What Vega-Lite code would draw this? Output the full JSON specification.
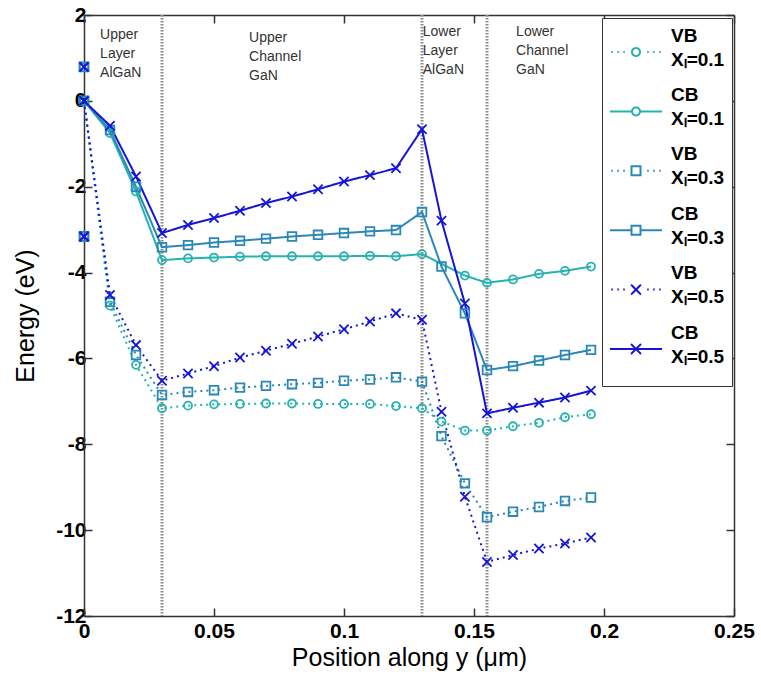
{
  "$schema": "https://vega.github.io/schema/vega-lite/v6.json",
  "autosize": "none",
  "width": 650,
  "height": 601,
  "padding": {"left": 84, "top": 15, "right": 27, "bottom": 63},
  "background": "white",
  "config": {
    "view": {"stroke": null},
    "font": "Liberation Sans",
    "axis": {
      "grid": false,
      "domainColor": "#333333",
      "domainWidth": 1.5,
      "tickColor": "#333333",
      "tickWidth": 1.5,
      "tickSize": -8,
      "labelFlush": false,
      "labelFont": "Liberation Sans",
      "labelFontSize": 21,
      "labelFontWeight": "bold",
      "labelColor": "black",
      "titleFont": "Liberation Sans",
      "titleFontSize": 25,
      "titleFontWeight": "normal",
      "titleColor": "black"
    }
  },
  "datasets": {
    "bands": [
      {"series": "CB 0.1", "band": "CB", "xl": "0.1", "pos": 0, "energy": 0}, {"series": "CB 0.1", "band": "CB", "xl": "0.1", "pos": 0.01, "energy": -0.75}, {"series": "CB 0.1", "band": "CB", "xl": "0.1", "pos": 0.02, "energy": -2.11}, {"series": "CB 0.1", "band": "CB", "xl": "0.1", "pos": 0.03, "energy": -3.71}, {"series": "CB 0.1", "band": "CB", "xl": "0.1", "pos": 0.04, "energy": -3.67}, {"series": "CB 0.1", "band": "CB", "xl": "0.1", "pos": 0.05, "energy": -3.65}, {"series": "CB 0.1", "band": "CB", "xl": "0.1", "pos": 0.06, "energy": -3.63}, {"series": "CB 0.1", "band": "CB", "xl": "0.1", "pos": 0.07, "energy": -3.62}, {"series": "CB 0.1", "band": "CB", "xl": "0.1", "pos": 0.08, "energy": -3.62}, {"series": "CB 0.1", "band": "CB", "xl": "0.1", "pos": 0.09, "energy": -3.62}, {"series": "CB 0.1", "band": "CB", "xl": "0.1", "pos": 0.1, "energy": -3.62}, {"series": "CB 0.1", "band": "CB", "xl": "0.1", "pos": 0.11, "energy": -3.61}, {"series": "CB 0.1", "band": "CB", "xl": "0.1", "pos": 0.12, "energy": -3.62}, {"series": "CB 0.1", "band": "CB", "xl": "0.1", "pos": 0.13, "energy": -3.57}, {"series": "CB 0.1", "band": "CB", "xl": "0.1", "pos": 0.1465, "energy": -4.07}, {"series": "CB 0.1", "band": "CB", "xl": "0.1", "pos": 0.155, "energy": -4.24}, {"series": "CB 0.1", "band": "CB", "xl": "0.1", "pos": 0.165, "energy": -4.16}, {"series": "CB 0.1", "band": "CB", "xl": "0.1", "pos": 0.175, "energy": -4.03}, {"series": "CB 0.1", "band": "CB", "xl": "0.1", "pos": 0.185, "energy": -3.96}, {"series": "CB 0.1", "band": "CB", "xl": "0.1", "pos": 0.195, "energy": -3.86},

      {"series": "CB 0.3", "band": "CB", "xl": "0.3", "pos": 0, "energy": 0}, {"series": "CB 0.3", "band": "CB", "xl": "0.3", "pos": 0.01, "energy": -0.68}, {"series": "CB 0.3", "band": "CB", "xl": "0.3", "pos": 0.02, "energy": -2.0}, {"series": "CB 0.3", "band": "CB", "xl": "0.3", "pos": 0.03, "energy": -3.41}, {"series": "CB 0.3", "band": "CB", "xl": "0.3", "pos": 0.04, "energy": -3.36}, {"series": "CB 0.3", "band": "CB", "xl": "0.3", "pos": 0.05, "energy": -3.3}, {"series": "CB 0.3", "band": "CB", "xl": "0.3", "pos": 0.06, "energy": -3.26}, {"series": "CB 0.3", "band": "CB", "xl": "0.3", "pos": 0.07, "energy": -3.21}, {"series": "CB 0.3", "band": "CB", "xl": "0.3", "pos": 0.08, "energy": -3.16}, {"series": "CB 0.3", "band": "CB", "xl": "0.3", "pos": 0.09, "energy": -3.12}, {"series": "CB 0.3", "band": "CB", "xl": "0.3", "pos": 0.1, "energy": -3.08}, {"series": "CB 0.3", "band": "CB", "xl": "0.3", "pos": 0.11, "energy": -3.04}, {"series": "CB 0.3", "band": "CB", "xl": "0.3", "pos": 0.12, "energy": -3.01}, {"series": "CB 0.3", "band": "CB", "xl": "0.3", "pos": 0.13, "energy": -2.59}, {"series": "CB 0.3", "band": "CB", "xl": "0.3", "pos": 0.1375, "energy": -3.86}, {"series": "CB 0.3", "band": "CB", "xl": "0.3", "pos": 0.1465, "energy": -4.95}, {"series": "CB 0.3", "band": "CB", "xl": "0.3", "pos": 0.155, "energy": -6.27}, {"series": "CB 0.3", "band": "CB", "xl": "0.3", "pos": 0.165, "energy": -6.18}, {"series": "CB 0.3", "band": "CB", "xl": "0.3", "pos": 0.175, "energy": -6.05}, {"series": "CB 0.3", "band": "CB", "xl": "0.3", "pos": 0.185, "energy": -5.92}, {"series": "CB 0.3", "band": "CB", "xl": "0.3", "pos": 0.195, "energy": -5.8},

      {"series": "CB 0.5", "band": "CB", "xl": "0.5", "pos": 0, "energy": 0}, {"series": "CB 0.5", "band": "CB", "xl": "0.5", "pos": 0.01, "energy": -0.58}, {"series": "CB 0.5", "band": "CB", "xl": "0.5", "pos": 0.02, "energy": -1.76}, {"series": "CB 0.5", "band": "CB", "xl": "0.5", "pos": 0.03, "energy": -3.08}, {"series": "CB 0.5", "band": "CB", "xl": "0.5", "pos": 0.04, "energy": -2.89}, {"series": "CB 0.5", "band": "CB", "xl": "0.5", "pos": 0.05, "energy": -2.73}, {"series": "CB 0.5", "band": "CB", "xl": "0.5", "pos": 0.06, "energy": -2.56}, {"series": "CB 0.5", "band": "CB", "xl": "0.5", "pos": 0.07, "energy": -2.38}, {"series": "CB 0.5", "band": "CB", "xl": "0.5", "pos": 0.08, "energy": -2.23}, {"series": "CB 0.5", "band": "CB", "xl": "0.5", "pos": 0.09, "energy": -2.06}, {"series": "CB 0.5", "band": "CB", "xl": "0.5", "pos": 0.1, "energy": -1.88}, {"series": "CB 0.5", "band": "CB", "xl": "0.5", "pos": 0.11, "energy": -1.73}, {"series": "CB 0.5", "band": "CB", "xl": "0.5", "pos": 0.12, "energy": -1.57}, {"series": "CB 0.5", "band": "CB", "xl": "0.5", "pos": 0.13, "energy": -0.66}, {"series": "CB 0.5", "band": "CB", "xl": "0.5", "pos": 0.1375, "energy": -2.79}, {"series": "CB 0.5", "band": "CB", "xl": "0.5", "pos": 0.1465, "energy": -4.72}, {"series": "CB 0.5", "band": "CB", "xl": "0.5", "pos": 0.155, "energy": -7.28}, {"series": "CB 0.5", "band": "CB", "xl": "0.5", "pos": 0.165, "energy": -7.15}, {"series": "CB 0.5", "band": "CB", "xl": "0.5", "pos": 0.175, "energy": -7.03}, {"series": "CB 0.5", "band": "CB", "xl": "0.5", "pos": 0.185, "energy": -6.91}, {"series": "CB 0.5", "band": "CB", "xl": "0.5", "pos": 0.195, "energy": -6.75},

      {"series": "VB 0.1", "band": "VB", "xl": "0.1", "pos": 0, "energy": 0}, {"series": "VB 0.1", "band": "VB", "xl": "0.1", "pos": 0.01, "energy": -4.77}, {"series": "VB 0.1", "band": "VB", "xl": "0.1", "pos": 0.02, "energy": -6.15}, {"series": "VB 0.1", "band": "VB", "xl": "0.1", "pos": 0.03, "energy": -7.16}, {"series": "VB 0.1", "band": "VB", "xl": "0.1", "pos": 0.04, "energy": -7.1}, {"series": "VB 0.1", "band": "VB", "xl": "0.1", "pos": 0.05, "energy": -7.07}, {"series": "VB 0.1", "band": "VB", "xl": "0.1", "pos": 0.06, "energy": -7.06}, {"series": "VB 0.1", "band": "VB", "xl": "0.1", "pos": 0.07, "energy": -7.05}, {"series": "VB 0.1", "band": "VB", "xl": "0.1", "pos": 0.08, "energy": -7.05}, {"series": "VB 0.1", "band": "VB", "xl": "0.1", "pos": 0.09, "energy": -7.06}, {"series": "VB 0.1", "band": "VB", "xl": "0.1", "pos": 0.1, "energy": -7.06}, {"series": "VB 0.1", "band": "VB", "xl": "0.1", "pos": 0.11, "energy": -7.06}, {"series": "VB 0.1", "band": "VB", "xl": "0.1", "pos": 0.12, "energy": -7.11}, {"series": "VB 0.1", "band": "VB", "xl": "0.1", "pos": 0.13, "energy": -7.16}, {"series": "VB 0.1", "band": "VB", "xl": "0.1", "pos": 0.1375, "energy": -7.47}, {"series": "VB 0.1", "band": "VB", "xl": "0.1", "pos": 0.1465, "energy": -7.68}, {"series": "VB 0.1", "band": "VB", "xl": "0.1", "pos": 0.155, "energy": -7.68}, {"series": "VB 0.1", "band": "VB", "xl": "0.1", "pos": 0.165, "energy": -7.58}, {"series": "VB 0.1", "band": "VB", "xl": "0.1", "pos": 0.175, "energy": -7.5}, {"series": "VB 0.1", "band": "VB", "xl": "0.1", "pos": 0.185, "energy": -7.37}, {"series": "VB 0.1", "band": "VB", "xl": "0.1", "pos": 0.195, "energy": -7.3},

      {"series": "VB 0.3", "band": "VB", "xl": "0.3", "pos": 0, "energy": 0}, {"series": "VB 0.3", "band": "VB", "xl": "0.3", "pos": 0.01, "energy": -4.68}, {"series": "VB 0.3", "band": "VB", "xl": "0.3", "pos": 0.02, "energy": -5.92}, {"series": "VB 0.3", "band": "VB", "xl": "0.3", "pos": 0.03, "energy": -6.85}, {"series": "VB 0.3", "band": "VB", "xl": "0.3", "pos": 0.04, "energy": -6.78}, {"series": "VB 0.3", "band": "VB", "xl": "0.3", "pos": 0.05, "energy": -6.74}, {"series": "VB 0.3", "band": "VB", "xl": "0.3", "pos": 0.06, "energy": -6.68}, {"series": "VB 0.3", "band": "VB", "xl": "0.3", "pos": 0.07, "energy": -6.64}, {"series": "VB 0.3", "band": "VB", "xl": "0.3", "pos": 0.08, "energy": -6.6}, {"series": "VB 0.3", "band": "VB", "xl": "0.3", "pos": 0.09, "energy": -6.57}, {"series": "VB 0.3", "band": "VB", "xl": "0.3", "pos": 0.1, "energy": -6.52}, {"series": "VB 0.3", "band": "VB", "xl": "0.3", "pos": 0.11, "energy": -6.49}, {"series": "VB 0.3", "band": "VB", "xl": "0.3", "pos": 0.12, "energy": -6.44}, {"series": "VB 0.3", "band": "VB", "xl": "0.3", "pos": 0.13, "energy": -6.54}, {"series": "VB 0.3", "band": "VB", "xl": "0.3", "pos": 0.1375, "energy": -7.81}, {"series": "VB 0.3", "band": "VB", "xl": "0.3", "pos": 0.1465, "energy": -8.91}, {"series": "VB 0.3", "band": "VB", "xl": "0.3", "pos": 0.155, "energy": -9.7}, {"series": "VB 0.3", "band": "VB", "xl": "0.3", "pos": 0.165, "energy": -9.57}, {"series": "VB 0.3", "band": "VB", "xl": "0.3", "pos": 0.175, "energy": -9.46}, {"series": "VB 0.3", "band": "VB", "xl": "0.3", "pos": 0.185, "energy": -9.32}, {"series": "VB 0.3", "band": "VB", "xl": "0.3", "pos": 0.195, "energy": -9.24},

      {"series": "VB 0.5", "band": "VB", "xl": "0.5", "pos": 0, "energy": 0}, {"series": "VB 0.5", "band": "VB", "xl": "0.5", "pos": 0.01, "energy": -4.52}, {"series": "VB 0.5", "band": "VB", "xl": "0.5", "pos": 0.02, "energy": -5.69}, {"series": "VB 0.5", "band": "VB", "xl": "0.5", "pos": 0.03, "energy": -6.52}, {"series": "VB 0.5", "band": "VB", "xl": "0.5", "pos": 0.04, "energy": -6.35}, {"series": "VB 0.5", "band": "VB", "xl": "0.5", "pos": 0.05, "energy": -6.18}, {"series": "VB 0.5", "band": "VB", "xl": "0.5", "pos": 0.06, "energy": -5.98}, {"series": "VB 0.5", "band": "VB", "xl": "0.5", "pos": 0.07, "energy": -5.82}, {"series": "VB 0.5", "band": "VB", "xl": "0.5", "pos": 0.08, "energy": -5.66}, {"series": "VB 0.5", "band": "VB", "xl": "0.5", "pos": 0.09, "energy": -5.49}, {"series": "VB 0.5", "band": "VB", "xl": "0.5", "pos": 0.1, "energy": -5.32}, {"series": "VB 0.5", "band": "VB", "xl": "0.5", "pos": 0.11, "energy": -5.14}, {"series": "VB 0.5", "band": "VB", "xl": "0.5", "pos": 0.12, "energy": -4.95}, {"series": "VB 0.5", "band": "VB", "xl": "0.5", "pos": 0.13, "energy": -5.1}, {"series": "VB 0.5", "band": "VB", "xl": "0.5", "pos": 0.1375, "energy": -7.24}, {"series": "VB 0.5", "band": "VB", "xl": "0.5", "pos": 0.1465, "energy": -9.22}, {"series": "VB 0.5", "band": "VB", "xl": "0.5", "pos": 0.155, "energy": -10.74}, {"series": "VB 0.5", "band": "VB", "xl": "0.5", "pos": 0.165, "energy": -10.58}, {"series": "VB 0.5", "band": "VB", "xl": "0.5", "pos": 0.175, "energy": -10.43}, {"series": "VB 0.5", "band": "VB", "xl": "0.5", "pos": 0.185, "energy": -10.31}, {"series": "VB 0.5", "band": "VB", "xl": "0.5", "pos": 0.195, "energy": -10.17}
    ],
    "surface": [
      {"series": "VB 0.3", "band": "VB", "xl": "0.3", "pos": 0, "energy": 0.79}, {"series": "VB 0.5", "band": "VB", "xl": "0.5", "pos": 0, "energy": 0.79},
      {"series": "VB 0.3", "band": "VB", "xl": "0.3", "pos": 0, "energy": -3.16}, {"series": "VB 0.5", "band": "VB", "xl": "0.5", "pos": 0, "energy": -3.16}
    ],
    "interfaces": [{"pos": 0.03}, {"pos": 0.13}, {"pos": 0.155}],
    "regions": [
      {"pos": 0.0062, "energy": 1.7, "name": ["Upper", "Layer", "AlGaN"]},
      {"pos": 0.0635, "energy": 1.63, "name": ["Upper", "Channel", "GaN"]},
      {"pos": 0.1303, "energy": 1.77, "name": ["Lower", "Layer", "AlGaN"]},
      {"pos": 0.1662, "energy": 1.77, "name": ["Lower", "Channel", "GaN"]}
    ]
  },
  "resolve": {"axis": {"x": "independent", "y": "independent"}},
  "layer": [
    {
      "data": {"name": "interfaces"},
      "mark": {"type": "rule", "color": "#8c8c8c", "strokeWidth": 3, "strokeDash": [1.5, 1.5]},
      "encoding": {
        "x": {"field": "pos", "type": "quantitative", "scale": {"domain": [0, 0.25], "nice": false},
              "axis": {"orient": "top", "labels": false, "title": null, "values": [0, 0.05, 0.1, 0.15, 0.2, 0.25]}}
      }
    },
    {
      "data": {"name": "interfaces"},
      "mark": {"type": "rule", "opacity": 0},
      "encoding": {
        "y": {"datum": 0, "type": "quantitative", "scale": {"domain": [-12, 2], "nice": false},
              "axis": {"orient": "right", "labels": false, "title": null, "values": [-12, -10, -8, -6, -4, -2, 0, 2]}}
      }
    },
    {
      "data": {"name": "regions"},
      "mark": {"type": "text", "align": "left", "baseline": "top", "font": "Liberation Sans", "fontSize": 14, "lineHeight": 19, "color": "#333333"},
      "encoding": {
        "x": {"field": "pos", "type": "quantitative", "axis": null},
        "y": {"field": "energy", "type": "quantitative", "axis": null},
        "text": {"field": "name"}
      }
    },
    {
      "data": {"name": "bands"},
      "mark": {"type": "line", "strokeWidth": 2},
      "encoding": {
        "x": {"field": "pos", "type": "quantitative", "scale": {"domain": [0, 0.25], "nice": false},
              "axis": {"orient": "bottom", "title": "Position along y (μm)", "values": [0, 0.05, 0.1, 0.15, 0.2, 0.25],
                       "labelExpr": "'' + datum.value", "labelPadding": 12, "titlePadding": 4}},
        "y": {"field": "energy", "type": "quantitative", "scale": {"domain": [-12, 2], "nice": false},
              "axis": {"orient": "left", "title": "Energy (eV)", "values": [-12, -10, -8, -6, -4, -2, 0, 2],
                       "labelExpr": "'' + datum.value", "labelPadding": 6, "titlePadding": 17}},
        "detail": {"field": "series"},
        "color": {
          "field": "series", "type": "nominal",
          "scale": {"domain": ["VB 0.1", "CB 0.1", "VB 0.3", "CB 0.3", "VB 0.5", "CB 0.5"],
                    "range": ["#26b3b0", "#26b3b0", "#2a88b8", "#2a88b8", "#1515d6", "#1515d6"]},
          "legend": {
            "orient": "none", "legendX": 518, "legendY": 3,
            "title": null,
            "direction": "vertical",
            "fillColor": "white", "strokeColor": "#333333",
            "padding": 7,
            "symbolSize": 2704,
            "symbolStrokeWidth": 2,
            "symbolType": "M-1,0H1",
            "labelOffset": 8,
            "labelFont": "Liberation Sans", "labelFontSize": 19, "labelFontWeight": "bold", "labelColor": "black",
            "labelBaseline": "top",
            "labelExpr": "[slice(datum.label, 0, 2), 'Xₗ=' + slice(datum.label, 3)]",
            "rowPadding": -2.6,
            "encode": {
              "symbols": {"update": {
                "shape": {"signal": "'M0,-1.04L0,-1.04M0,1L0,1' + (datum.value === 'VB 0.1' ? 'M-0.95,0H-0.89M-0.72,0H-0.66M-0.49,0H-0.43M-0.154,0A0.154,0.154,0,1,1,0.154,0A0.154,0.154,0,1,1,-0.154,0ZM0.43,0H0.49M0.66,0H0.72M0.89,0H0.95' : datum.value === 'CB 0.1' ? 'M-1,0H-0.154M0.154,0H1M-0.154,0A0.154,0.154,0,1,1,0.154,0A0.154,0.154,0,1,1,-0.154,0Z' : datum.value === 'VB 0.3' ? 'M-0.95,0H-0.89M-0.72,0H-0.66M-0.49,0H-0.43M-0.173,-0.173H0.173V0.173H-0.173ZM0.43,0H0.49M0.66,0H0.72M0.89,0H0.95' : datum.value === 'CB 0.3' ? 'M-1,0H-0.173M0.173,0H1M-0.173,-0.173H0.173V0.173H-0.173Z' : datum.value === 'VB 0.5' ? 'M-0.95,0H-0.89M-0.72,0H-0.66M-0.49,0H-0.43M-0.19,-0.19L0.19,0.19M-0.19,0.19L0.19,-0.19M0.43,0H0.49M0.66,0H0.72M0.89,0H0.95' : 'M-1,0H1M-0.19,-0.19L0.19,0.19M-0.19,0.19L0.19,-0.19')"},
                "fill": {"value": "transparent"},
                "strokeDash": {"value": [1, 0]},
                "strokeWidth": {"value": 2}
              }},
              "labels": {"update": {"lineHeight": {"value": 24}, "dy": {"value": -25.5}}}
            }
          }
        },
        "strokeDash": {
          "field": "band", "type": "nominal", "legend": null,
          "scale": {"domain": ["VB", "CB"], "range": [[2, 4], [1, 0]]}
        }
      }
    },
    {
      "data": {"name": "bands"},
      "mark": {"type": "point", "filled": false, "strokeWidth": 1.8, "opacity": 1},
      "encoding": {
        "x": {"field": "pos", "type": "quantitative", "axis": null},
        "y": {"field": "energy", "type": "quantitative", "axis": null},
        "color": {"field": "series", "type": "nominal", "legend": null},
        "shape": {"field": "xl", "type": "nominal", "legend": null,
                  "scale": {"domain": ["0.1", "0.3", "0.5"], "range": ["circle", "square", "M-1,-1L1,1M-1,1L1,-1"]}},
        "size": {"field": "xl", "type": "nominal", "legend": null,
                 "scale": {"domain": ["0.1", "0.3", "0.5"], "range": [64, 85, 110]}}
      }
    },
    {
      "data": {"name": "surface"},
      "mark": {"type": "point", "filled": false, "strokeWidth": 2.2, "opacity": 1},
      "encoding": {
        "x": {"field": "pos", "type": "quantitative", "axis": null},
        "y": {"field": "energy", "type": "quantitative", "axis": null},
        "color": {"field": "series", "type": "nominal", "legend": null},
        "shape": {"field": "xl", "type": "nominal", "legend": null},
        "size": {"field": "xl", "type": "nominal", "legend": null}
      }
    }
  ]
}
